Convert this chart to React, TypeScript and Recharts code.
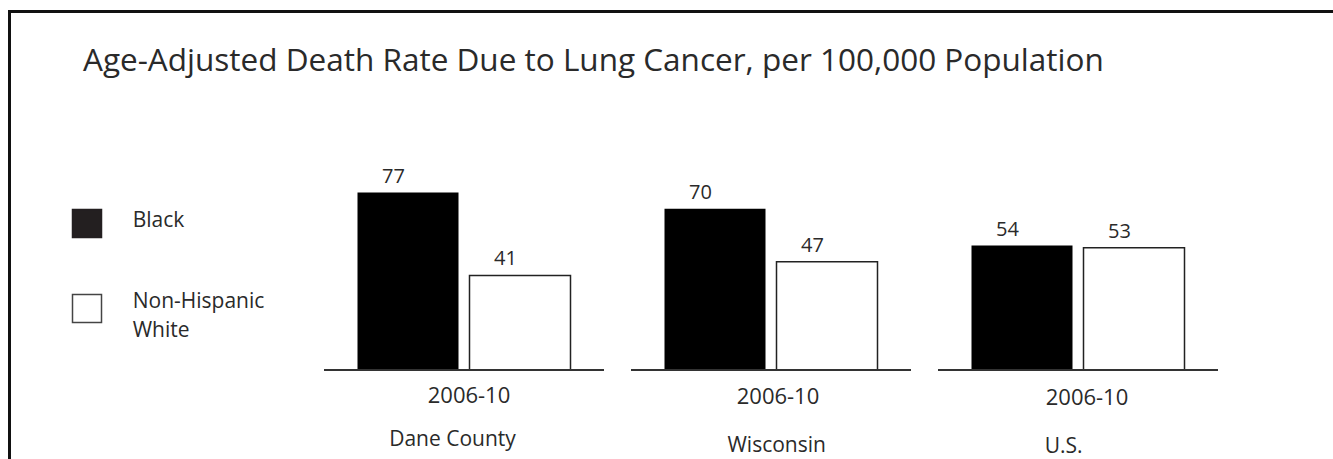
import React from 'react';
import { BarChart, Bar, XAxis, YAxis, Legend, LabelList } from 'recharts';

const categories = ['Dane County', 'Wisconsin', 'U.S.'];
const periods = ['2006-10', '2006-10', '2006-10'];
const blackValues = [77, 70, 54];
const whiteValues = [41, 47, 53];
const seriesNames = ['Black', 'Non-Hispanic White'];
const title = 'Age-Adjusted Death Rate Due to Lung Cancer, per 100,000 Population';

const data = categories.map((c, i) => ({
  name: c,
  period: periods[i],
  black: blackValues[i],
  white: whiteValues[i],
}));

// styling offsets for the tick labels (scan alignment)
const periodDx = [5, 7, 9];
const periodDy = [33, 33.5, 35];
const nameDx = [-11.5, 5.7, -14.3];
const nameDy = [76, 81.7, 83.3];

const FONT = '"Open Sans", sans-serif';
const TEXT = '#2a2a2a';

const Tick = (props: any) => {
  const { x, y, payload, index } = props;
  return (
    <g>
      <line x1={x - 140} x2={x + 140} y1={y} y2={y} stroke="#333" strokeWidth={2} />
      <text x={x + periodDx[index]} y={y + periodDy[index]} textAnchor="middle" fontSize={22} fill={TEXT} fontFamily={FONT}>
        {data[index].period}
      </text>
      <text x={x + nameDx[index]} y={y + nameDy[index]} textAnchor="middle" fontSize={21} fill={TEXT} fontFamily={FONT}>
        {payload.value}
      </text>
    </g>
  );
};

const ValueLabel = (props: any) => {
  const { x, y, width, value } = props;
  return (
    <text x={x + width / 2 - 14.5} y={y - 10} textAnchor="middle" fontSize={20} fill={TEXT} fontFamily={FONT}>
      {value}
    </text>
  );
};

const LegendContent = (props: any) => {
  const payload = props.payload || [];
  return (
    <svg width={260} height={160} style={{ display: 'block' }}>
      {payload.map((p: any, i: number) => {
        const top = i === 0 ? 9 : 94;
        const lines = String(p.value) === 'Non-Hispanic White' ? ['Non-Hispanic', 'White'] : [String(p.value)];
        return (
          <g key={i}>
            <rect
              x={12.5}
              y={top + 0.5}
              width={29}
              height={28}
              fill={i === 0 ? '#231f20' : '#fff'}
              stroke={i === 0 ? '#231f20' : '#444'}
              strokeWidth={1.5}
            />
            {lines.map((l, j) => (
              <text key={j} x={72.7} y={(i === 0 ? 26.7 : 108.3) + j * 28.4} fontSize={21} fill={TEXT} fontFamily={FONT}>
                {l}
              </text>
            ))}
          </g>
        );
      })}
    </svg>
  );
};

export default function App() {
  return (
    <div style={{ position: 'fixed', left: 0, top: 0, width: 1333, height: 459, background: '#fff', overflow: 'hidden' }}>
      <div
        style={{
          position: 'absolute',
          left: 8,
          top: 10,
          width: 1400,
          height: 500,
          borderTop: '3px solid #111',
          borderLeft: '3px solid #111',
        }}
      />
      <svg width={1333} height={100} style={{ position: 'absolute', left: 0, top: 0 }}>
        <text x={83} y={71} fontSize={31.5} fill={TEXT} fontFamily={FONT}>
          {title}
        </text>
      </svg>
      <div style={{ position: 'absolute', left: 0, top: 0 }}>
        <BarChart
          width={1333}
          height={459}
          data={data}
          margin={{ top: 185.6, right: 101.5, left: 310.5, bottom: 0 }}
          barGap={11}
        >
          <XAxis
            dataKey="name"
            axisLine={false}
            tickLine={false}
            tickSize={0}
            tickMargin={0}
            height={89}
            interval={0}
            tick={<Tick />}
          />
          <YAxis hide domain={[0, 80]} />
          <Legend
            layout="horizontal"
            verticalAlign="middle"
            align="center"
            wrapperStyle={{ position: 'absolute', left: 60, top: 200, width: 260, height: 160 }}
            content={<LegendContent />}
          />
          <Bar dataKey="black" name={seriesNames[0]} fill="#000" barSize={101} isAnimationActive={false}>
            <LabelList dataKey="black" content={<ValueLabel />} />
          </Bar>
          <Bar dataKey="white" name={seriesNames[1]} fill="#fff" stroke="#222" strokeWidth={1.5} barSize={101} isAnimationActive={false}>
            <LabelList dataKey="white" content={<ValueLabel />} />
          </Bar>
        </BarChart>
      </div>
    </div>
  );
}
